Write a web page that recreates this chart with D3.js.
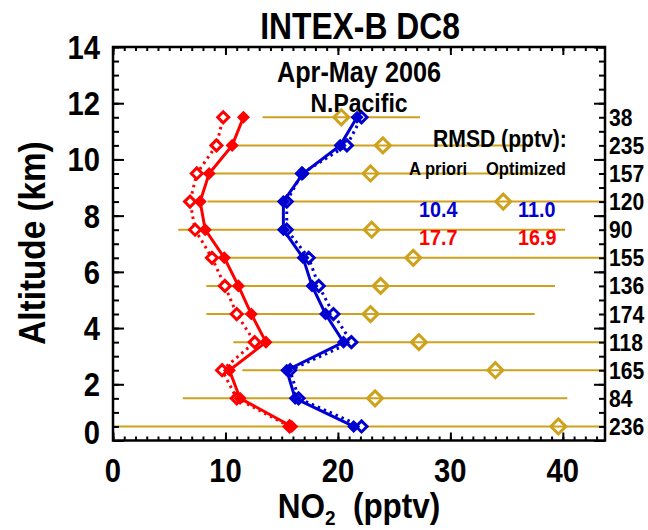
<!DOCTYPE html>
<html><head><meta charset="utf-8">
<script src="https://cdn.jsdelivr.net/npm/d3@7"></script>
<style>body{margin:0;background:#fff}svg{display:block}text{font-family:"Liberation Sans",Arial,sans-serif;font-weight:bold}</style>
</head><body>
<script>
const levels = [0.5,1.5,2.5,3.5,4.5,5.5,6.5,7.5,8.5,9.5,10.5,11.5];
const counts = [236,84,165,118,174,136,155,90,120,157,235,38];
const obsMean = [39.6,23.3,34.0,27.2,22.9,23.8,26.7,23.0,34.7,22.9,24.0,20.3];
const obsStd  = [40.0,17.1,22.5,16.5,14.6,15.5,17.5,17.2,26.3,15.2,13.2,7.0];
const redSolid  = [15.9,11.3,10.35,13.6,12.3,11.15,9.9,8.2,7.75,8.55,10.6,11.6];
const redDotted = [15.7,11.0,9.7,12.6,11.0,9.95,8.8,7.3,6.85,7.45,9.2,9.8];
const blueSolid  = [21.4,16.2,15.45,20.5,18.9,17.7,16.9,15.15,15.15,16.9,20.2,21.7];
const blueDotted = [22.1,16.5,15.75,21.2,19.6,18.3,17.4,15.45,15.45,16.8,20.8,22.1];
const xTicks = [0,10,20,30,40];
const yTicks = [0,2,4,6,8,10,12,14];
const rmsdHeader = "RMSD (pptv):";
const colHeaders = ["A priori","Optimized"];
const rmsdBlue = ["10.4","11.0"];
const rmsdRed = ["17.7","16.9"];

const W=648,H=530;
const L=113,R=605,T=47,B=440.5;
const x=d3.scaleLinear([0,43.75],[L,R]);
const y=d3.scaleLinear([0,14],[B,T]);
const gold="#CFA21E", red="#FF0000", blue="#0000D0";

const svg=d3.select("body").append("svg").attr("width",W).attr("height",H);
svg.append("defs").append("clipPath").attr("id","clip").append("rect").attr("x",L).attr("y",T).attr("width",R-L).attr("height",B-T);

function txt(px,py,str,size,anchor,sx,fill,rot){
  return svg.append("text")
    .attr("transform",`translate(${px},${py})${rot?` rotate(${rot})`:""} scale(${sx},1)`)
    .attr("text-anchor",anchor).attr("font-size",size).attr("fill",fill||"#000").text(str);
}

txt(360,39,"INTEX-B DC8",37,"middle",0.86);

const plot=svg.append("g").attr("clip-path","url(#clip)");
plot.selectAll("line.obs").data(levels).join("line")
  .attr("x1",(d,i)=>x(obsMean[i]-obsStd[i])).attr("x2",(d,i)=>x(obsMean[i]+obsStd[i]))
  .attr("y1",d=>y(d)).attr("y2",d=>y(d)).attr("stroke",gold).attr("stroke-width",2);

function profile(vals,color,dashed){
  const line=d3.line().x((d,i)=>x(vals[i])).y(d=>y(d));
  plot.append("path").datum(levels).attr("d",line).attr("fill","none").attr("stroke",color)
    .attr("stroke-width",3).attr("stroke-dasharray",dashed?"2.5,4":null);
  const s=5.5;
  plot.selectAll(null).data(levels).join("path")
    .attr("d",(d,i)=>{const cx=x(vals[i]),cy=y(d);return `M${cx-s},${cy}L${cx},${cy-s}L${cx+s},${cy}L${cx},${cy+s}Z`;})
    .attr("fill",dashed?"#fff":color).attr("stroke",color).attr("stroke-width",dashed?3:1.5);
}
profile(redDotted,red,true);
profile(redSolid,red,false);
profile(blueDotted,blue,true);
profile(blueSolid,blue,false);

const ds=7.5;
plot.selectAll("path.od").data(levels).join("path")
  .attr("d",(d,i)=>{const cx=x(obsMean[i]),cy=y(d);return `M${cx-ds},${cy}L${cx},${cy-ds}L${cx+ds},${cy}L${cx},${cy+ds}Z`;})
  .attr("fill","none").attr("stroke",gold).attr("stroke-width",3);

function ticksG(axis,tr){const g=svg.append("g").attr("transform",tr).call(axis);g.select(".domain").remove();g.selectAll("line").attr("stroke","#000").attr("stroke-width",2);return g;}
const yMinor=d3.range(0,14.01,0.5), xMinor=d3.range(0,44,1);
ticksG(d3.axisLeft(y).tickValues(yMinor).tickSize(-6).tickFormat(""),`translate(${L},0)`);
ticksG(d3.axisRight(y).tickValues(yMinor).tickSize(-6).tickFormat(""),`translate(${R},0)`);
ticksG(d3.axisBottom(x).tickValues(xMinor).tickSize(-4).tickFormat(""),`translate(0,${B})`);
ticksG(d3.axisTop(x).tickValues(xMinor).tickSize(-4).tickFormat(""),`translate(0,${T})`);
ticksG(d3.axisRight(y).tickValues(yTicks).tickSize(-11).tickFormat(""),`translate(${R},0)`);
ticksG(d3.axisTop(x).tickValues(xTicks).tickSize(-8).tickFormat(""),`translate(0,${T})`);
ticksG(d3.axisLeft(y).tickValues(yTicks).tickSize(-11).tickFormat(""),`translate(${L},0)`);
ticksG(d3.axisBottom(x).tickValues(xTicks).tickSize(-8).tickFormat(""),`translate(0,${B})`);
yTicks.forEach(v=>txt(L-13,y(v)+12-(v===0?9:0),d3.format("d")(v),34,"end",0.86));
xTicks.forEach(v=>txt(x(v),482,d3.format("d")(v),34,"middle",0.86));
svg.append("rect").attr("x",L).attr("y",T).attr("width",R-L).attr("height",B-T).attr("fill","none").attr("stroke","#000").attr("stroke-width",2.5);

levels.forEach((d,i)=>txt(R+4,y(d)+8.5,String(counts[i]),24,"start",0.88));

txt(359,82,"Apr-May 2006",29,"middle",0.87);
txt(359,112,"N.Pacific",25,"middle",0.92);

txt(433,147,rmsdHeader,23,"start",0.92);
txt(409,175,colHeaders[0],18,"start",0.92);
txt(486,175,colHeaders[1],18,"start",0.92);
txt(419,217,rmsdBlue[0],22,"start",0.9,blue);
txt(518,217,rmsdBlue[1],22,"start",0.9,blue);
txt(419,245,rmsdRed[0],22,"start",0.9,red);
txt(518,245,rmsdRed[1],22,"start",0.9,red);

txt(45,243,"Altitude (km)",37,"middle",0.9,"#000",-90);
const xl=svg.append("text").attr("transform","translate(359,518) scale(0.9,1)").attr("text-anchor","middle").attr("font-size",35);
xl.append("tspan").text("NO");
xl.append("tspan").attr("font-size",21).attr("dy",7).text("2");
xl.append("tspan").attr("dy",-7).text("\u00a0\u00a0(pptv)");
</script>
</body></html>
